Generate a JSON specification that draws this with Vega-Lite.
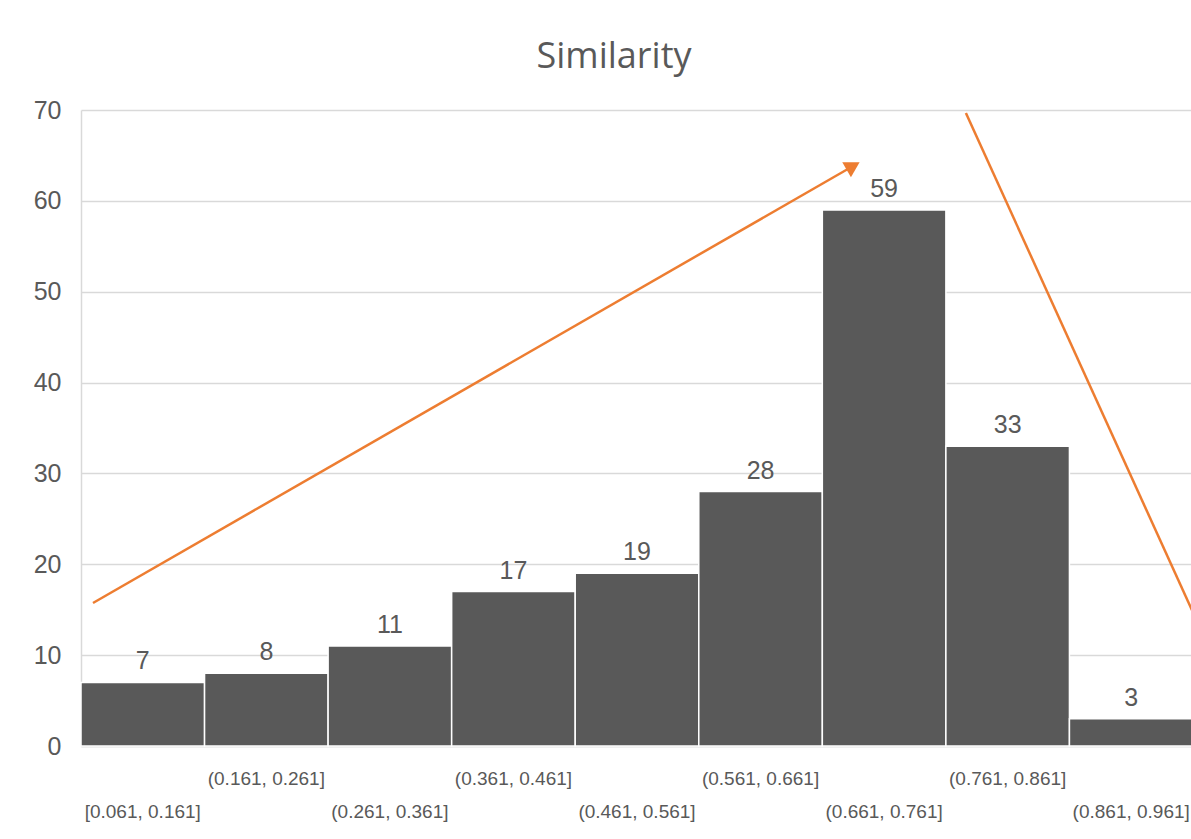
{
  "$schema": "https://vega.github.io/schema/vega-lite/v6.json",
  "autosize": {"type": "none"},
  "padding": {"left": 81, "top": 110, "right": 0, "bottom": 93},
  "width": 1112,
  "height": 636,
  "background": "white",
  "title": {
    "text": "Similarity",
    "font": "Open Sans",
    "fontSize": 36,
    "fontWeight": "normal",
    "color": "#595959",
    "anchor": "middle",
    "dx": -23,
    "offset": 22
  },
  "config": {"view": {"stroke": null}},
  "datasets": {
    "bins": [
      {"bin": "[0.061, 0.161]", "count": 7},
      {"bin": "(0.161, 0.261]", "count": 8},
      {"bin": "(0.261, 0.361]", "count": 11},
      {"bin": "(0.361, 0.461]", "count": 17},
      {"bin": "(0.461, 0.561]", "count": 19},
      {"bin": "(0.561, 0.661]", "count": 28},
      {"bin": "(0.661, 0.761]", "count": 59},
      {"bin": "(0.761, 0.861]", "count": 33},
      {"bin": "(0.861, 0.961]", "count": 3}
    ],
    "arrows": [
      {"arrow": "rise", "px": 0.097, "py": 15.74},
      {"arrow": "rise", "px": 6.249, "py": 63.84},
      {"arrow": "fall", "px": 7.162, "py": 69.67},
      {"arrow": "fall", "px": 9.0, "py": 14.7}
    ],
    "heads": [
      {"arrow": "rise", "px": 6.249, "py": 63.84}
    ]
  },
  "layer": [
    {
      "data": {"name": "bins"},
      "encoding": {
        "x": {
          "field": "bin", "type": "nominal", "sort": null,
          "scale": {"paddingInner": 0, "paddingOuter": 0},
          "axis": {
            "title": null, "labelAngle": 0, "ticks": false,
            "domain": true, "domainColor": "#d9d9d9", "domainWidth": 1.5,
            "labelFont": "Liberation Sans", "labelFontSize": 19, "labelColor": "#595959",
            "labelOverlap": false, "labelBaseline": "top",
            "labelPadding": {"condition": {"test": "round(datum.index*8) % 2 == 0", "value": 56}, "value": 23}
          }
        },
        "y": {
          "field": "count", "type": "quantitative",
          "scale": {"domain": [0, 70], "nice": false},
          "axis": {
            "title": null, "values": [0, 10, 20, 30, 40, 50, 60, 70],
            "ticks": false, "domain": true, "domainColor": "#d9d9d9", "domainWidth": 1.5,
            "gridColor": "#d9d9d9", "gridWidth": 1.5,
            "labelFont": "Liberation Sans", "labelFontSize": 25, "labelColor": "#595959",
            "labelPadding": 20
          }
        }
      },
      "layer": [
        {"mark": {"type": "bar", "color": "#595959", "stroke": "white", "strokeWidth": 1.5}},
        {
          "mark": {"type": "text", "font": "Liberation Sans", "fontSize": 25, "color": "#595959", "baseline": "middle", "dy": -21},
          "encoding": {"text": {"field": "count", "type": "quantitative"}}
        }
      ]
    },
    {
      "layer": [
        {
          "data": {"name": "arrows"},
          "mark": {"type": "line", "color": "#ED7D31", "strokeWidth": 2.5, "clip": false},
          "encoding": {
            "x": {"field": "px", "type": "quantitative", "scale": {"domain": [0, 9], "nice": false, "zero": false}, "axis": null},
            "y": {"field": "py", "type": "quantitative"},
            "detail": {"field": "arrow", "type": "nominal"}
          }
        },
        {
          "data": {"name": "heads"},
          "mark": {"type": "point", "shape": "triangle-up", "filled": true, "opacity": 1, "color": "#ED7D31", "size": 300, "angle": 60},
          "encoding": {
            "x": {"field": "px", "type": "quantitative", "scale": {"domain": [0, 9], "nice": false, "zero": false}, "axis": null},
            "y": {"field": "py", "type": "quantitative"}
          }
        }
      ]
    }
  ],
  "resolve": {"scale": {"x": "independent"}}
}
